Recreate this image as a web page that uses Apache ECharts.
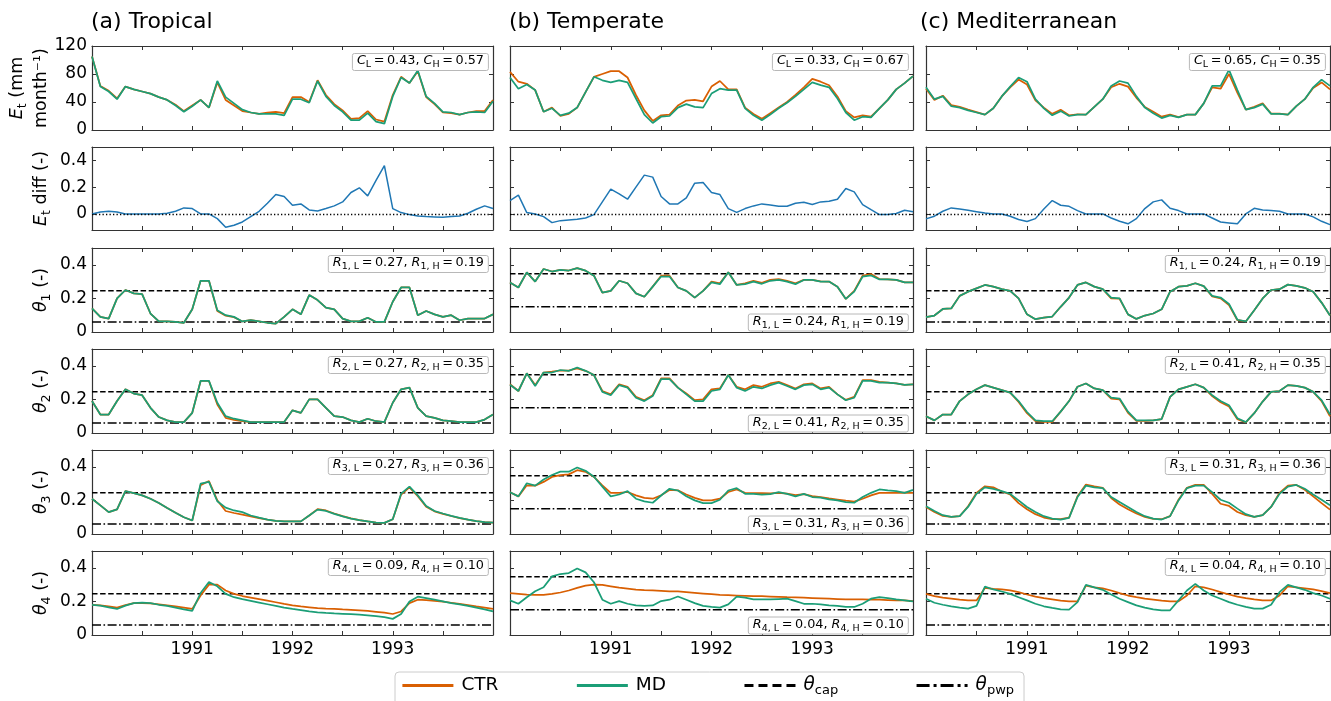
<!DOCTYPE html>
<html><head><meta charset="utf-8">
<script src="https://cdn.jsdelivr.net/npm/echarts@6/dist/echarts.min.js"></script>
<style>html,body{margin:0;padding:0;background:#fff}#c{width:1331px;height:701px}</style>
</head><body><div id="c"></div>
<script>
// ---------------- data ----------------
// x = month index counted from January 1990 (0 = Jan 1990, 48 = Jan 1994)
const months = [0,1,2,3,4,5,6,7,8,9,10,11,12,13,14,15,16,17,18,19,20,21,22,23,24,25,26,27,28,29,30,31,32,33,34,35,36,37,38,39,40,41,42,43,44,45,46,47,48];
const xRange = [0, 48];
const xTickMonths = [6, 12, 18, 24, 30, 36, 42];
const yearTickMonths = [12, 24, 36];
const yearTickLabels = ['1991', '1992', '1993'];
const columnTitles = ['(a) Tropical', '(b) Temperate', '(c) Mediterranean'];

// Et (mm month-1)
const etCtrA = [105,63,56,45,62,58,55,52,47,43,36,27,35,43,32,68,43,35,27,25,23,25,26,24,47,47,40,71,50,37,28,16,17,27,15,12,50,76,67,84,47,37,25,24,22,25,27,27,43];
const etMdA  = [105,62,55,44,62,58,55,52,47,43,35,26,34,43,32,70,47,38,29,25,23,23,23,21,44,44,39,70,48,35,26,14,14,24,12,9,48,75,67,85,48,38,26,25,22,25,26,25,41];
const etCtrB = [83,69,66,57,26,32,20,23,32,54,76,80,84,84,75,50,28,13,21,22,35,42,43,41,62,70,58,58,32,23,16,24,32,40,50,61,73,69,64,48,27,18,21,19,31,43,58,67,77];
const etMdB  = [75,59,65,57,26,31,21,24,32,54,76,71,68,71,68,45,22,10,19,20,32,37,33,32,52,59,57,57,31,21,14,22,31,39,48,58,68,64,61,45,25,14,19,18,31,43,58,67,77];
const etCtrC = [59,43,49,35.5,33,29,25.5,22,31,48,61,72,65,42.5,32,23,29,21,22.5,22,33,44,61,66,62,46,33,26,19,22,18.5,22,22,38,61,59,80,53,29,33,38,23.5,23.5,22,34,44,60,68,58];
const etMdC  = [61,44,48,34,32,28,25,22,31,48,62,75,69,44,31,21,27,20,22,22,33,44,63,70,67,48,32,24,17,21,18,22,22,38,63,63,86,57,29,32,37,23,23,22,34,44,61,72,63];

// Et diff (-)
const etDiffA = [0,0.015,0.02,0.015,0,0,0,0,0,0.005,0.02,0.045,0.04,0,0,-0.035,-0.1,-0.085,-0.06,-0.02,0.02,0.08,0.145,0.13,0.065,0.075,0.03,0.022,0.04,0.06,0.09,0.16,0.195,0.135,0.25,0.36,0.04,0.01,-0.005,-0.015,-0.02,-0.022,-0.025,-0.02,-0.015,0.005,0.035,0.06,0.04];
const etDiffB = [0.1,0.14,0.01,0,-0.02,-0.065,-0.05,-0.045,-0.04,-0.03,-0.005,0.09,0.185,0.15,0.11,0.2,0.29,0.275,0.13,0.075,0.075,0.12,0.23,0.235,0.16,0.145,0.04,0.012,0.04,0.06,0.075,0.067,0.057,0.057,0.08,0.087,0.07,0.09,0.095,0.11,0.19,0.165,0.07,0.032,-0.005,-0.005,0.003,0.027,0.017];
const etDiffC = [-0.037,-0.017,0.02,0.045,0.037,0.027,0.017,0.007,0,0,-0.017,-0.042,-0.057,-0.035,0.037,0.1,0.065,0.057,0.025,0,0,0,-0.03,-0.055,-0.074,-0.035,0.04,0.09,0.105,0.042,0.025,0,0,0,-0.03,-0.06,-0.067,-0.074,0,0.042,0.03,0.025,0.02,0,0,0,-0.022,-0.055,-0.08];

// soil moisture theta_1..theta_4 (-)
const th1CtrA = [0.14,0.09,0.08,0.2,0.25,0.23,0.225,0.11,0.063,0.063,0.06,0.055,0.135,0.305,0.305,0.125,0.097,0.088,0.063,0.07,0.063,0.055,0.05,0.09,0.135,0.105,0.22,0.19,0.145,0.135,0.08,0.063,0.063,0.085,0.06,0.06,0.18,0.265,0.265,0.1,0.125,0.105,0.09,0.1,0.07,0.08,0.08,0.08,0.105];
const th1MdA  = [0.14,0.09,0.08,0.2,0.25,0.23,0.225,0.11,0.063,0.063,0.06,0.055,0.135,0.305,0.305,0.13,0.1,0.09,0.063,0.07,0.063,0.055,0.05,0.09,0.135,0.105,0.22,0.19,0.145,0.135,0.08,0.063,0.063,0.085,0.06,0.06,0.18,0.265,0.265,0.1,0.125,0.105,0.09,0.1,0.07,0.08,0.08,0.08,0.105];
const th2CtrA = [0.19,0.11,0.11,0.19,0.26,0.235,0.225,0.15,0.095,0.075,0.065,0.065,0.12,0.31,0.31,0.17,0.09,0.078,0.07,0.065,0.065,0.065,0.065,0.065,0.135,0.12,0.2,0.2,0.15,0.1,0.095,0.075,0.065,0.085,0.07,0.065,0.18,0.26,0.27,0.15,0.1,0.09,0.075,0.07,0.065,0.065,0.065,0.08,0.11];
const th2MdA  = [0.19,0.11,0.11,0.19,0.26,0.235,0.225,0.15,0.095,0.075,0.065,0.065,0.12,0.31,0.31,0.18,0.1,0.085,0.075,0.065,0.065,0.065,0.065,0.065,0.135,0.12,0.2,0.2,0.15,0.1,0.095,0.075,0.065,0.085,0.07,0.065,0.18,0.26,0.27,0.15,0.1,0.09,0.075,0.07,0.065,0.065,0.065,0.08,0.11];
const th3CtrA = [0.21,0.17,0.13,0.147,0.255,0.243,0.23,0.21,0.185,0.155,0.127,0.1,0.08,0.29,0.315,0.2,0.137,0.125,0.115,0.105,0.095,0.085,0.078,0.075,0.075,0.075,0.11,0.148,0.14,0.122,0.106,0.093,0.083,0.075,0.068,0.066,0.088,0.235,0.278,0.225,0.163,0.135,0.12,0.107,0.095,0.085,0.076,0.07,0.068];
const th3MdA  = [0.21,0.17,0.13,0.147,0.255,0.243,0.23,0.21,0.185,0.155,0.127,0.1,0.08,0.3,0.31,0.195,0.157,0.14,0.13,0.11,0.097,0.085,0.078,0.075,0.075,0.075,0.11,0.145,0.137,0.12,0.105,0.092,0.082,0.075,0.068,0.066,0.088,0.24,0.282,0.23,0.167,0.137,0.122,0.108,0.096,0.086,0.076,0.07,0.068];
const th4CtrA = [0.18,0.177,0.17,0.163,0.178,0.19,0.19,0.188,0.183,0.177,0.17,0.163,0.155,0.235,0.3,0.3,0.265,0.245,0.232,0.223,0.214,0.205,0.195,0.185,0.177,0.17,0.165,0.16,0.157,0.155,0.152,0.15,0.147,0.143,0.138,0.133,0.125,0.14,0.19,0.21,0.207,0.203,0.198,0.192,0.185,0.178,0.17,0.163,0.155];
const th4MdA  = [0.18,0.175,0.165,0.155,0.175,0.19,0.193,0.19,0.18,0.173,0.163,0.153,0.143,0.25,0.315,0.29,0.245,0.225,0.213,0.203,0.193,0.183,0.173,0.163,0.155,0.148,0.141,0.135,0.131,0.128,0.126,0.124,0.121,0.117,0.113,0.107,0.096,0.125,0.2,0.228,0.22,0.21,0.2,0.19,0.182,0.173,0.163,0.153,0.141];

const th1CtrB = [0.295,0.265,0.355,0.3,0.375,0.36,0.37,0.366,0.38,0.365,0.335,0.235,0.245,0.305,0.29,0.23,0.21,0.27,0.335,0.335,0.265,0.245,0.205,0.245,0.3,0.29,0.355,0.28,0.29,0.305,0.292,0.31,0.315,0.305,0.29,0.31,0.31,0.302,0.3,0.27,0.197,0.245,0.335,0.345,0.315,0.313,0.31,0.295,0.295];
const th1MdB  = [0.295,0.265,0.355,0.3,0.375,0.36,0.37,0.366,0.38,0.365,0.335,0.235,0.245,0.305,0.29,0.23,0.21,0.27,0.33,0.33,0.265,0.245,0.205,0.245,0.295,0.285,0.355,0.28,0.285,0.3,0.287,0.305,0.31,0.3,0.285,0.31,0.31,0.3,0.3,0.27,0.197,0.24,0.33,0.337,0.313,0.313,0.31,0.295,0.295];
const th2CtrB = [0.29,0.25,0.355,0.285,0.36,0.365,0.372,0.372,0.385,0.37,0.345,0.25,0.23,0.29,0.275,0.215,0.195,0.225,0.325,0.325,0.27,0.235,0.195,0.2,0.26,0.265,0.345,0.275,0.26,0.285,0.275,0.295,0.305,0.285,0.265,0.29,0.295,0.265,0.275,0.23,0.197,0.215,0.315,0.315,0.305,0.3,0.295,0.287,0.29];
const th2MdB  = [0.287,0.25,0.355,0.28,0.36,0.36,0.375,0.37,0.39,0.37,0.345,0.245,0.225,0.285,0.27,0.21,0.19,0.22,0.32,0.32,0.27,0.23,0.19,0.19,0.25,0.26,0.345,0.27,0.25,0.275,0.265,0.285,0.3,0.28,0.26,0.285,0.29,0.26,0.27,0.23,0.195,0.21,0.31,0.31,0.3,0.3,0.295,0.287,0.29];
const th3CtrB = [0.249,0.224,0.29,0.288,0.31,0.34,0.35,0.355,0.38,0.37,0.34,0.29,0.245,0.245,0.25,0.23,0.215,0.21,0.23,0.262,0.26,0.235,0.215,0.2,0.2,0.21,0.25,0.265,0.245,0.244,0.243,0.242,0.245,0.24,0.232,0.237,0.225,0.22,0.212,0.205,0.198,0.193,0.21,0.23,0.245,0.245,0.245,0.247,0.245];
const th3MdB  = [0.249,0.224,0.302,0.288,0.324,0.351,0.371,0.371,0.396,0.376,0.341,0.282,0.224,0.235,0.255,0.21,0.194,0.186,0.229,0.269,0.259,0.225,0.2,0.184,0.184,0.204,0.259,0.273,0.239,0.239,0.235,0.237,0.249,0.239,0.224,0.239,0.22,0.216,0.206,0.2,0.19,0.186,0.22,0.245,0.265,0.259,0.255,0.245,0.263];
const th4CtrB = [0.249,0.245,0.241,0.239,0.239,0.245,0.253,0.265,0.28,0.294,0.3,0.298,0.29,0.282,0.276,0.27,0.267,0.265,0.263,0.26,0.259,0.255,0.251,0.247,0.243,0.239,0.237,0.235,0.233,0.231,0.231,0.229,0.227,0.225,0.224,0.222,0.22,0.218,0.216,0.214,0.212,0.212,0.212,0.21,0.21,0.208,0.206,0.206,0.202];
const th4MdB  = [0.206,0.186,0.225,0.26,0.284,0.349,0.363,0.369,0.396,0.373,0.314,0.21,0.186,0.202,0.186,0.176,0.173,0.176,0.202,0.21,0.229,0.21,0.19,0.173,0.167,0.163,0.182,0.229,0.222,0.212,0.212,0.212,0.214,0.216,0.202,0.186,0.186,0.182,0.176,0.173,0.167,0.167,0.186,0.216,0.225,0.22,0.212,0.206,0.2];

const th1CtrC = [0.088,0.098,0.137,0.14,0.215,0.24,0.26,0.28,0.27,0.255,0.245,0.2,0.105,0.076,0.085,0.092,0.15,0.205,0.28,0.295,0.27,0.255,0.2,0.198,0.105,0.078,0.098,0.11,0.135,0.24,0.27,0.275,0.29,0.273,0.212,0.2,0.16,0.07,0.063,0.13,0.2,0.25,0.255,0.282,0.275,0.263,0.24,0.175,0.098];
const th1MdC  = [0.088,0.098,0.137,0.14,0.215,0.24,0.26,0.28,0.27,0.255,0.245,0.2,0.105,0.076,0.085,0.092,0.15,0.205,0.28,0.295,0.27,0.255,0.205,0.2,0.105,0.078,0.098,0.11,0.135,0.24,0.27,0.275,0.29,0.273,0.215,0.205,0.167,0.073,0.063,0.13,0.2,0.25,0.255,0.282,0.275,0.263,0.24,0.175,0.098];
const th2CtrC = [0.1,0.075,0.11,0.11,0.19,0.23,0.26,0.285,0.27,0.255,0.24,0.185,0.118,0.07,0.066,0.066,0.127,0.19,0.275,0.295,0.265,0.255,0.205,0.2,0.12,0.072,0.072,0.075,0.083,0.215,0.26,0.275,0.29,0.27,0.22,0.183,0.158,0.082,0.063,0.118,0.187,0.245,0.25,0.285,0.28,0.27,0.245,0.19,0.1];
const th2MdC  = [0.1,0.075,0.11,0.11,0.19,0.23,0.26,0.285,0.27,0.255,0.24,0.19,0.125,0.075,0.07,0.07,0.127,0.19,0.275,0.295,0.265,0.255,0.21,0.205,0.127,0.075,0.075,0.075,0.083,0.215,0.26,0.275,0.29,0.27,0.225,0.19,0.165,0.088,0.065,0.118,0.187,0.245,0.25,0.285,0.28,0.27,0.245,0.195,0.11];
const th3CtrC = [0.161,0.131,0.108,0.102,0.106,0.165,0.245,0.284,0.278,0.253,0.235,0.184,0.147,0.118,0.098,0.088,0.088,0.098,0.224,0.294,0.284,0.275,0.214,0.176,0.147,0.122,0.102,0.09,0.088,0.106,0.204,0.275,0.292,0.292,0.239,0.18,0.167,0.131,0.112,0.102,0.112,0.161,0.245,0.288,0.292,0.263,0.224,0.184,0.145];
const th3MdC  = [0.165,0.137,0.112,0.102,0.106,0.161,0.239,0.278,0.269,0.255,0.239,0.2,0.161,0.131,0.106,0.092,0.086,0.096,0.22,0.288,0.278,0.273,0.22,0.19,0.161,0.131,0.106,0.092,0.086,0.106,0.2,0.273,0.288,0.288,0.249,0.204,0.186,0.151,0.118,0.102,0.112,0.161,0.239,0.282,0.292,0.269,0.235,0.204,0.171];
const th4CtrC = [0.245,0.231,0.222,0.216,0.21,0.206,0.206,0.28,0.275,0.271,0.265,0.255,0.241,0.229,0.22,0.212,0.204,0.2,0.2,0.294,0.284,0.278,0.265,0.249,0.235,0.225,0.216,0.21,0.204,0.2,0.2,0.235,0.29,0.284,0.271,0.255,0.241,0.229,0.22,0.212,0.206,0.206,0.235,0.29,0.284,0.278,0.271,0.261,0.249];
const th4MdC  = [0.216,0.192,0.18,0.171,0.163,0.157,0.173,0.288,0.271,0.259,0.245,0.225,0.206,0.186,0.171,0.161,0.153,0.151,0.196,0.298,0.284,0.269,0.241,0.216,0.196,0.176,0.163,0.153,0.147,0.147,0.206,0.265,0.304,0.265,0.235,0.216,0.196,0.18,0.167,0.157,0.157,0.18,0.255,0.298,0.284,0.269,0.249,0.235,0.216];

// field capacity and wilting point per climate
const capLevels = [0.245, 0.347, 0.245];
const pwpLevels = [0.06, 0.15, 0.06];

// annotation coefficients
const cLow  = [0.43, 0.33, 0.65];
const cHigh = [0.57, 0.67, 0.35];
const rLowA = [0.27, 0.27, 0.27, 0.09], rHighA = [0.19, 0.35, 0.36, 0.10];
const rLowB = [0.24, 0.41, 0.31, 0.04], rHighB = [0.19, 0.35, 0.36, 0.10];
const rLowC = [0.24, 0.41, 0.31, 0.04], rHighC = [0.19, 0.35, 0.36, 0.10];

// axis ticks
const etTicks = [0, 40, 80, 120];
const diffTicks = [0, 0.2, 0.4];
const thetaTicks = [0, 0.2, 0.4];

// ---------------- layout / style ----------------
const W = 1331, H = 701;
const FONT = 'DejaVu Sans';
const FRAME = '#333333';
const CTR_COLOR = '#d95f02', MD_COLOR = '#1b9e77', DIFF_COLOR = '#1f77b4';
const colLeft = [92, 510, 926], colWidth = [401, 403, 404];
const rowTop = [46, 147, 248, 349, 450, 551], rowHeight = [84, 83, 84, 84, 84, 84];
const SP = '\u2009'; // thin space (mathtext-like spacing)

const columns = [
  {ctrEt: etCtrA, mdEt: etMdA, diff: etDiffA, ctrTh: [th1CtrA, th2CtrA, th3CtrA, th4CtrA], mdTh: [th1MdA, th2MdA, th3MdA, th4MdA], rLow: rLowA, rHigh: rHighA, rBottom: false},
  {ctrEt: etCtrB, mdEt: etMdB, diff: etDiffB, ctrTh: [th1CtrB, th2CtrB, th3CtrB, th4CtrB], mdTh: [th1MdB, th2MdB, th3MdB, th4MdB], rLow: rLowB, rHigh: rHighB, rBottom: true},
  {ctrEt: etCtrC, mdEt: etMdC, diff: etDiffC, ctrTh: [th1CtrC, th2CtrC, th3CtrC, th4CtrC], mdTh: [th1MdC, th2MdC, th3MdC, th4MdC], rLow: rLowC, rHigh: rHighC, rBottom: false}
];

const richAxis = {
  i: {fontFamily: FONT, fontStyle: 'italic', fontSize: 17.5, lineHeight: 24, color: '#000'},
  s: {fontFamily: FONT, fontSize: 12.5, lineHeight: 12, verticalAlign: 'bottom', color: '#000'},
  n: {fontFamily: FONT, fontSize: 17.5, lineHeight: 24, color: '#000'}
};
const richAnn = {
  i: {fontFamily: FONT, fontStyle: 'italic', fontSize: 12.8, lineHeight: 18, color: '#000'},
  s: {fontFamily: FONT, fontSize: 9.5, lineHeight: 9, verticalAlign: 'bottom', color: '#000'},
  n: {fontFamily: FONT, fontSize: 12.8, lineHeight: 18, color: '#000'}
};
const richLegend = {
  i: {fontFamily: FONT, fontStyle: 'italic', fontSize: 18.5, lineHeight: 24, color: '#000'},
  s: {fontFamily: FONT, fontSize: 13, lineHeight: 12, verticalAlign: 'bottom', color: '#000'},
  n: {fontFamily: FONT, fontSize: 18.5, lineHeight: 24, color: '#000'}
};

const yNames = [
  '{i|E}{s|t}{n| (mm}\n{n|month⁻¹)}',
  '{i|E}{s|t}{n| diff (-)}',
  '{i|θ}{s|1}{n| (-)}',
  '{i|θ}{s|2}{n| (-)}',
  '{i|θ}{s|3}{n| (-)}',
  '{i|θ}{s|4}{n| (-)}'
];

const fmt2 = v => v.toFixed(2);
const tickFmt = v => (v === 0 ? '0' : (Math.abs(v) >= 1 ? String(v) : v.toFixed(1)));
const xy = arr => arr.map((v, i) => [months[i], v]);
const levelLine = v => [[xRange[0], v], [xRange[1], v]];

const grids = [], xAxes = [], yAxes = [], series = [], titles = [];
const LW = 1.75;

function annBox(text, c) {
  return {text: text, right: W - (colLeft[c] + colWidth[c]) + 4, padding: [1, 5, 1, 5],
    borderColor: '#b8b8b8', borderWidth: 1, borderRadius: 2, backgroundColor: '#fff',
    textStyle: {fontFamily: FONT, fontSize: 12.8, fontWeight: 'normal', rich: richAnn}};
}

for (let c = 0; c < 3; c++) {
  titles.push({text: columnTitles[c], left: colLeft[c] - 1 - (c === 2 ? 5 : 0), top: 11, padding: 0,
    textStyle: {fontFamily: FONT, fontSize: 22, fontWeight: 'normal', color: '#000'}});
  const col = columns[c];
  for (let r = 0; r < 6; r++) {
    const k = c * 6 + r;
    grids.push({left: colLeft[c], top: rowTop[r], width: colWidth[c], height: rowHeight[r]});
    const ticks = r === 0 ? etTicks : (r === 1 ? diffTicks : thetaTicks);
    const yMin = r === 0 ? 0 : (r === 1 ? -0.12 : 0);
    const yMax = r === 0 ? 120 : 0.5;
    const baseX = {type: 'value', gridIndex: k, min: xRange[0], max: xRange[1], splitLine: {show: false},
      axisLine: {show: true, onZero: false, lineStyle: {color: FRAME, width: 1.2}}};
    xAxes.push(Object.assign({}, baseX, {position: 'bottom',
      axisTick: {show: true, inside: true, length: 4, customValues: xTickMonths, lineStyle: {color: FRAME, width: 1}},
      axisLabel: {show: r === 5, customValues: yearTickMonths, margin: 6, fontFamily: FONT, fontSize: 17, color: '#000',
        formatter: v => yearTickLabels[yearTickMonths.indexOf(v)]}}));
    xAxes.push(Object.assign({}, baseX, {position: 'top',
      axisTick: {show: true, inside: true, length: 4, customValues: xTickMonths, lineStyle: {color: FRAME, width: 1}},
      axisLabel: {show: false}}));
    const baseY = {type: 'value', gridIndex: k, min: yMin, max: yMax, splitLine: {show: false},
      axisLine: {show: true, onZero: false, lineStyle: {color: FRAME, width: 1.2}}};
    yAxes.push(Object.assign({}, baseY, {position: 'left',
      name: c === 0 ? yNames[r] : '', nameLocation: 'middle', nameRotate: 90, nameGap: 39,
      nameTextStyle: {fontFamily: FONT, fontSize: 17.5, color: '#000', rich: richAxis},
      axisTick: {show: true, inside: true, length: 4, customValues: ticks, lineStyle: {color: FRAME, width: 1}},
      axisLabel: {show: c === 0, customValues: ticks, margin: 5, fontFamily: FONT, fontSize: 17, color: '#000', formatter: tickFmt}}));
    yAxes.push(Object.assign({}, baseY, {position: 'right',
      axisTick: {show: true, inside: true, length: 4, customValues: ticks, lineStyle: {color: FRAME, width: 1}},
      axisLabel: {show: false}}));

    const common = {type: 'line', xAxisIndex: 2 * k, yAxisIndex: 2 * k, symbol: 'none', showSymbol: false,
      silent: true, animation: false};
    if (r === 0) {
      series.push(Object.assign({}, common, {name: 'CTR', data: xy(col.ctrEt), lineStyle: {color: CTR_COLOR, width: LW}, itemStyle: {color: CTR_COLOR}}));
      series.push(Object.assign({}, common, {name: 'MD', data: xy(col.mdEt), lineStyle: {color: MD_COLOR, width: LW}, itemStyle: {color: MD_COLOR}}));
      const a = annBox('{i|C}{s|L}{n|' + SP + '=' + SP + fmt2(cLow[c]) + ', }{i|C}{s|H}{n|' + SP + '=' + SP + fmt2(cHigh[c]) + '}', c);
      a.top = rowTop[r] + 5;
      titles.push(a);
    } else if (r === 1) {
      series.push(Object.assign({}, common, {name: 'diff', data: xy(col.diff), lineStyle: {color: DIFF_COLOR, width: 1.5}, itemStyle: {color: DIFF_COLOR},
        markLine: {silent: true, symbol: 'none', animation: false, label: {show: false},
          lineStyle: {color: '#000', width: 1.3, type: [1.3, 2.2]}, data: [{yAxis: 0}]}}));
    } else {
      const j = r - 2;
      series.push(Object.assign({}, common, {name: 'θcap', data: levelLine(capLevels[c]), lineStyle: {color: '#000', width: 1.5, type: [5.5, 2.6]}, itemStyle: {color: '#000'}}));
      series.push(Object.assign({}, common, {name: 'θpwp', data: levelLine(pwpLevels[c]), lineStyle: {color: '#000', width: 1.5, type: [9, 2.5, 1.6, 2.5]}, itemStyle: {color: '#000'}}));
      series.push(Object.assign({}, common, {name: 'CTR', data: xy(col.ctrTh[j]), lineStyle: {color: CTR_COLOR, width: LW}, itemStyle: {color: CTR_COLOR}}));
      series.push(Object.assign({}, common, {name: 'MD', data: xy(col.mdTh[j]), lineStyle: {color: MD_COLOR, width: LW}, itemStyle: {color: MD_COLOR}}));
      const n = j + 1;
      const a = annBox('{i|R}{s|' + n + ', L}{n|' + SP + '=' + SP + fmt2(col.rLow[j]) + ', }{i|R}{s|' + n + ', H}{n|' + SP + '=' + SP + fmt2(col.rHigh[j]) + '}', c);
      if (col.rBottom) a.bottom = H - (rowTop[r] + rowHeight[r]) + 3; else a.top = rowTop[r] + 5;
      titles.push(a);
    }
  }
}

const chart = echarts.init(document.getElementById('c'), null, {renderer: 'canvas'});
chart.setOption({
  animation: false,
  backgroundColor: '#fff',
  title: titles,
  grid: grids,
  xAxis: xAxes,
  yAxis: yAxes,
  legend: {
    data: [
      {name: 'CTR'},
      {name: 'MD'},
      {name: 'θcap', lineStyle: {type: [9, 5], width: 2.8}},
      {name: 'θpwp', lineStyle: {type: [13, 4, 3, 4], width: 2.8}}
    ],
    left: 395, top: 672, orient: 'horizontal',
    itemWidth: 51, itemHeight: 14, itemGap: 77, padding: [4, 10, 8, 6], selectedMode: false,
    itemStyle: {opacity: 0},
    lineStyle: {width: 2.8},
    borderColor: '#cccccc', borderWidth: 1, borderRadius: 4, backgroundColor: '#fff',
    textStyle: {fontFamily: FONT, fontSize: 18.5, color: '#000', padding: [0, 0, 0, 3], rich: richLegend},
    formatter: name => name === 'θcap' ? '{i|θ}{s|cap}' : (name === 'θpwp' ? '{i|θ}{s|pwp}' : '{n|' + name + '}')
  },
  series: series
});
</script></body></html>
